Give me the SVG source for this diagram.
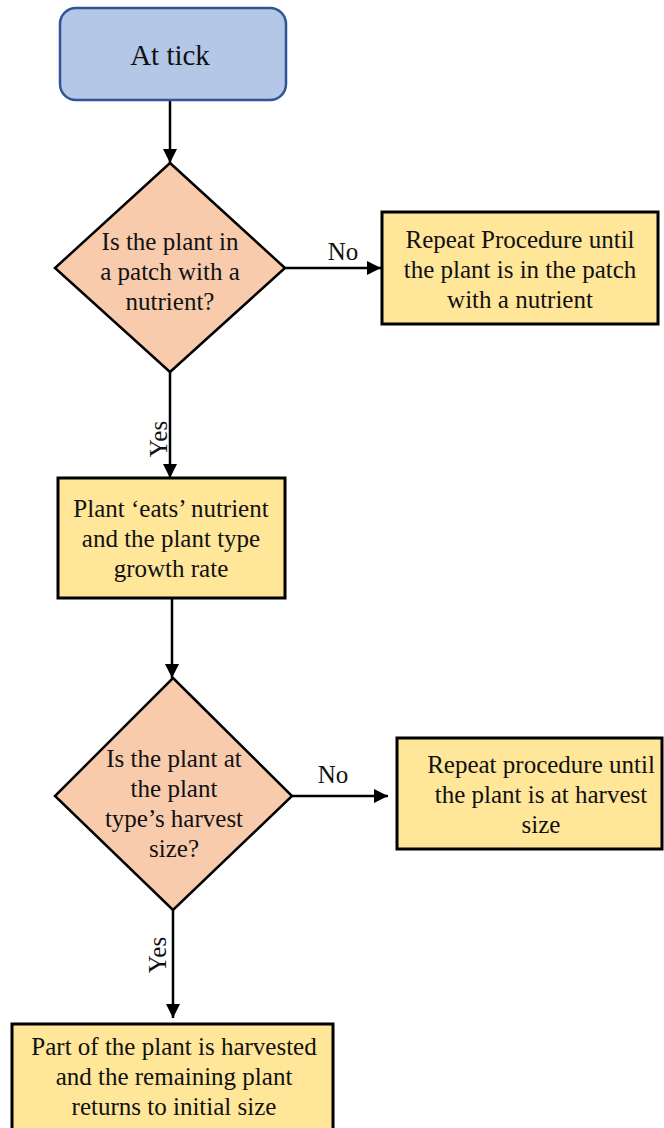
<svg xmlns="http://www.w3.org/2000/svg" width="664" height="1128" viewBox="0 0 664 1128">
<style>
text{font-family:"Liberation Serif","Times New Roman",serif;font-size:25px;fill:#111;text-anchor:middle}
.start{fill:#b4c7e7;stroke:#2f5597;stroke-width:2.5}
.dec{fill:#f8cbad;stroke:#000;stroke-width:2.5}
.proc{fill:#ffe699;stroke:#000;stroke-width:3}
.edge{stroke:#000;stroke-width:2.5;fill:none}
</style>
<defs>
<marker id="ah" markerUnits="userSpaceOnUse" markerWidth="16" markerHeight="14" refX="14" refY="7" orient="auto">
<path d="M0,0 L14,7 L0,14 Z" fill="#000"/>
</marker>
</defs>
<rect width="664" height="1128" fill="#fff"/>
<g id="connectors">
<line class="edge" x1="170" y1="100" x2="170" y2="163" marker-end="url(#ah)"/>
<line class="edge" x1="285" y1="268" x2="381" y2="268" marker-end="url(#ah)"/>
<text x="343" y="260">No</text>
<line class="edge" x1="170" y1="372" x2="170" y2="478" marker-end="url(#ah)"/>
<text transform="translate(167,439) rotate(-90)">Yes</text>
<line class="edge" x1="172" y1="598" x2="172" y2="678" marker-end="url(#ah)"/>
<line class="edge" x1="292" y1="796" x2="388" y2="796" marker-end="url(#ah)"/>
<text x="333" y="783">No</text>
<line class="edge" x1="173" y1="910" x2="173" y2="1018" marker-end="url(#ah)"/>
<text transform="translate(166,955) rotate(-90)">Yes</text>
</g>
<g id="start">
<rect class="start" x="60" y="8" width="226" height="92" rx="16"/>
<text x="170" y="65" style="font-size:29px">At tick</text>
</g>
<g id="decision1">
<polygon class="dec" points="170,163 285,268 170,372 55,268"/>
<text x="170" y="250">Is the plant in</text>
<text x="170" y="280">a patch with a</text>
<text x="170" y="310">nutrient?</text>
</g>
<g id="repeat1">
<rect class="proc" x="382" y="212" width="276" height="112"/>
<text x="520" y="248">Repeat Procedure until</text>
<text x="520" y="278">the plant is in the patch</text>
<text x="520" y="308">with a nutrient</text>
</g>
<g id="eat">
<rect class="proc" x="58" y="478" width="227" height="120"/>
<text x="171" y="517">Plant ‘eats’ nutrient</text>
<text x="171" y="547">and the plant type</text>
<text x="171" y="577">growth rate</text>
</g>
<g id="decision2">
<polygon class="dec" points="173,678 292,796 173,910 55,796"/>
<text x="174" y="767">Is the plant at</text>
<text x="174" y="797">the plant</text>
<text x="174" y="827">type’s harvest</text>
<text x="174" y="857">size?</text>
</g>
<g id="repeat2">
<rect class="proc" x="397" y="738" width="265" height="111"/>
<text x="541" y="773">Repeat procedure until</text>
<text x="541" y="803">the plant is at harvest</text>
<text x="541" y="833">size</text>
</g>
<g id="harvest">
<rect class="proc" x="12" y="1024" width="321" height="120"/>
<text x="174" y="1055">Part of the plant is harvested</text>
<text x="174" y="1085">and the remaining plant</text>
<text x="174" y="1115">returns to initial size</text>
</g>
</svg>
